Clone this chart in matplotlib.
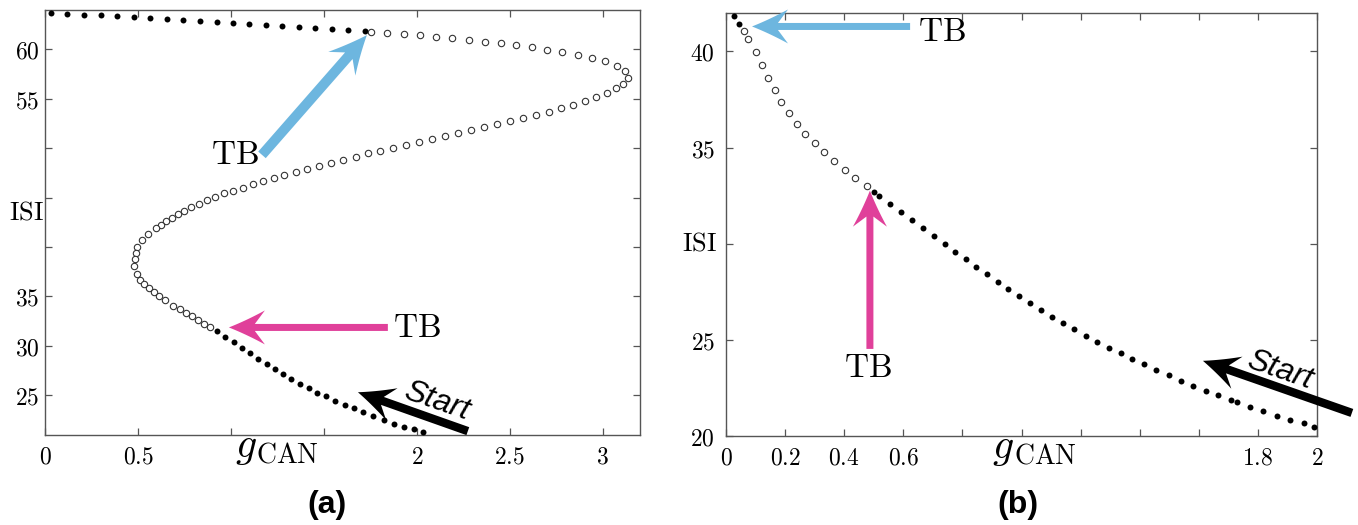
import matplotlib
matplotlib.use("Agg")
import matplotlib.pyplot as plt
from matplotlib.patches import Polygon
import numpy as np

plt.rcParams['mathtext.fontset'] = 'cm'

# ---------------- Data: panel (a) ----------------
a_top_stable_x = [0.030, 0.118, 0.210, 0.300, 0.387, 0.477, 0.565, 0.654, 0.742, 0.833,
                  0.923, 1.011, 1.098, 1.187, 1.276, 1.366, 1.453, 1.543, 1.631, 1.719]
a_top_stable_y = [63.66, 63.56, 63.46, 63.40, 63.33, 63.23, 63.16, 63.05, 62.95, 62.85,
                  62.75, 62.65, 62.55, 62.45, 62.35, 62.25, 62.15, 62.05, 61.95, 61.84]

a_unstable_x = [1.751, 1.840, 1.929, 2.016, 2.102, 2.190, 2.278, 2.364, 2.450, 2.534,
                2.620, 2.701, 2.783, 2.864, 2.941, 3.012, 3.074, 3.120, 3.133,
                3.109, 3.070, 3.020, 2.964, 2.905, 2.840, 2.774, 2.708, 2.640, 2.570,
                2.500, 2.430, 2.360, 2.289, 2.220, 2.149, 2.079, 2.009, 1.939, 1.873,
                1.803, 1.737, 1.670, 1.604, 1.538, 1.473, 1.410, 1.348, 1.287, 1.230,
                1.172, 1.117, 1.063, 1.012, 0.962, 0.916, 0.869, 0.826, 0.785, 0.746,
                0.713, 0.681, 0.651, 0.622, 0.595, 0.554, 0.522, 0.496, 0.491, 0.482,
                0.480, 0.493, 0.512, 0.534, 0.559, 0.586, 0.611, 0.644, 0.690, 0.724,
                0.756, 0.790, 0.824, 0.855, 0.887]
a_unstable_y = [61.74, 61.64, 61.51, 61.41, 61.24, 61.11, 60.91, 60.74, 60.57, 60.40,
                60.17, 59.93, 59.70, 59.43, 59.12, 58.76, 58.29, 57.78, 57.05,
                56.50, 56.04, 55.59, 55.16, 54.79, 54.39, 54.02, 53.68, 53.38, 53.04,
                52.74, 52.44, 52.14, 51.83, 51.53, 51.23, 50.93, 50.63, 50.32, 50.05,
                49.75, 49.45, 49.14, 48.81, 48.51, 48.21, 47.90, 47.57, 47.27, 46.93,
                46.62, 46.36, 45.99, 45.69, 45.45, 45.05, 44.75, 44.37, 44.04, 43.67,
                43.34, 42.96, 42.63, 42.23, 41.89, 41.32, 40.68, 40.04, 39.41, 38.80,
                38.05, 37.29, 36.71, 36.21, 35.81, 35.43, 35.03, 34.67, 34.06, 33.69,
                33.32, 32.98, 32.65, 32.25, 31.87]

a_low_stable_x = [0.925, 0.969, 1.015, 1.059, 1.102, 1.147, 1.192, 1.235, 1.280, 1.324,
                  1.371, 1.418, 1.464, 1.512, 1.561, 1.611, 1.661, 1.711, 1.765, 1.821,
                  1.876, 1.932, 1.985, 2.031]
a_low_stable_y = [31.54, 30.94, 30.39, 29.83, 29.25, 28.72, 28.17, 27.71, 27.14, 26.63,
                  26.16, 25.73, 25.29, 24.92, 24.44, 24.04, 23.68, 23.28, 22.87, 22.50,
                  22.13, 21.79, 21.56, 21.32]

a_xticks = [0, 0.5, 1.0, 1.5, 2.0, 2.5, 3.0]
a_xticklabels = ['0', '0.5', '', '', '2', '2.5', '3']
a_yticks = [25, 30, 35, 40, 45, 50, 55, 60]
a_yticklabels = ['25', '30', '35', '', '', '', '55', '60']

# ---------------- Data: panel (b) ----------------
b_top_stable_x = [0.026, 0.045]
b_top_stable_y = [41.84, 41.44]
b_unstable_x = [0.060, 0.075, 0.101, 0.122, 0.142, 0.165, 0.187, 0.212, 0.239, 0.268,
                0.300, 0.332, 0.366, 0.402, 0.438, 0.476]
b_unstable_y = [41.06, 40.66, 39.96, 39.29, 38.61, 37.98, 37.36, 36.79, 36.25, 35.73,
                35.24, 34.76, 34.29, 33.85, 33.44, 33.01]
b_low_stable_x = [0.501, 0.519, 0.556, 0.593, 0.630, 0.667, 0.704, 0.740, 0.776, 0.812,
                  0.847, 0.883, 0.920, 0.956, 0.992, 1.030, 1.067, 1.104, 1.140, 1.179,
                  1.217, 1.256, 1.295, 1.336, 1.375, 1.416, 1.456, 1.498, 1.540, 1.581,
                  1.624, 1.666, 1.709, 1.730, 1.774, 1.818, 1.865, 1.910, 1.956, 1.990]
b_low_stable_y = [32.67, 32.46, 32.07, 31.65, 31.21, 30.80, 30.40, 29.99, 29.58, 29.18,
                  28.80, 28.42, 28.02, 27.67, 27.29, 26.93, 26.56, 26.21, 25.87, 25.56,
                  25.22, 24.91, 24.58, 24.31, 24.01, 23.73, 23.44, 23.16, 22.88, 22.62,
                  22.36, 22.12, 21.88, 21.76, 21.53, 21.29, 21.06, 20.85, 20.66, 20.47]

b_xticks = [0, 0.2, 0.4, 0.6, 0.8, 1.0, 1.2, 1.4, 1.6, 1.8, 2.0]
b_xticklabels = ['0', '0.2', '0.4', '0.6', '', '', '', '', '', '1.8', '2']
b_yticks = [20, 25, 30, 35, 40]
b_yticklabels = ['20', '25', '', '35', '40']

BLUE = '#6DB6DF'
PINK = '#E0409A'
SPINE = '#555555'

fig = plt.figure(figsize=(13.58, 5.25), dpi=100)
axA = fig.add_axes([45/1358, 90/525, 595/1358, 425/525])
axB = fig.add_axes([726/1358, 89/525, 591/1358, 423/525])


def style_axes(ax, xticks, xlabels, yticks, ylabels, ypad):
    ax.set_xticks(xticks)
    ax.set_xticklabels([('$%s$' % s) if s else '' for s in xlabels])
    ax.set_yticks(yticks)
    ax.set_yticklabels([('$%s$' % s) if s else '' for s in ylabels])
    ax.tick_params(direction='in', length=5, width=0.9, color=SPINE,
                   top=True, right=True, labelsize=17)
    ax.tick_params(axis='x', pad=7)
    ax.tick_params(axis='y', pad=ypad)
    for s in ax.spines.values():
        s.set_color(SPINE)
        s.set_linewidth(1.0)


def stable(ax, x, y):
    ax.plot(x, y, 'o', ms=4.3, mfc='black', mec='black', mew=0, ls='none', clip_on=False, zorder=3)


def unstable(ax, x, y):
    ax.plot(x, y, 'o', ms=4.6, mfc='white', mec='#333333', mew=0.8, ls='none', clip_on=False, zorder=3)


def arrow(ax, tail, tip, color, half_shaft, head_len, head_half):
    """Stealth-style arrow; geometry in pixels, endpoints in data coordinates."""
    p0 = ax.transData.transform(tail)
    p1 = ax.transData.transform(tip)
    d = p1 - p0
    u = d / np.hypot(*d)
    n = np.array([-u[1], u[0]])
    notch = p1 - 0.72 * head_len * u
    back = p1 - head_len * u
    pts = [p0 + half_shaft * n, notch + half_shaft * n]
    # concave edge from barb to tip
    barb_l = back + head_half * n
    barb_r = back - head_half * n
    ctrl_l = 0.5 * (barb_l + p1) - 0.08 * head_half * n
    ctrl_r = 0.5 * (barb_r + p1) + 0.08 * head_half * n
    ts = np.linspace(0, 1, 12)
    pts.append(barb_l)
    for t in ts[1:]:
        pts.append((1 - t) ** 2 * barb_l + 2 * (1 - t) * t * ctrl_l + t ** 2 * p1)
    for t in ts[1:]:
        pts.append((1 - t) ** 2 * p1 + 2 * (1 - t) * t * ctrl_r + t ** 2 * barb_r)
    pts += [notch - half_shaft * n, p0 - half_shaft * n]
    pts = fig.transFigure.inverted().transform(np.array(pts))
    fig.patches.append(Polygon(pts, closed=True, transform=fig.transFigure,
                               facecolor=color, edgecolor='none', zorder=5, figure=fig))


# ---------------- Panel (a) ----------------
stable(axA, a_top_stable_x, a_top_stable_y)
unstable(axA, a_unstable_x, a_unstable_y)
stable(axA, a_low_stable_x, a_low_stable_y)
axA.set_xlim(0, 3.2)
axA.set_ylim(21, 63.95)
style_axes(axA, a_xticks, a_xticklabels, a_yticks, a_yticklabels, 4)

# ---------------- Panel (b) ----------------
stable(axB, b_top_stable_x, b_top_stable_y)
unstable(axB, b_unstable_x, b_unstable_y)
stable(axB, b_low_stable_x, b_low_stable_y)
axB.set_xlim(0, 2)
axB.set_ylim(20, 42)
style_axes(axB, b_xticks, b_xticklabels, b_yticks, b_yticklabels, 8)

# arrows and annotations, panel (a)
arrow(axA, (1.167, 49.31), (1.731, 61.41), BLUE, 5, 38, 18)
axA.text(1.021, 49.31, r'$\mathrm{TB}$', fontsize=24, ha='center', va='center')
arrow(axA, (1.844, 31.87), (0.989, 31.87), PINK, 3.5, 36, 17)
axA.text(1.871, 31.87, r'$\mathrm{TB}$', fontsize=24, ha='left', va='center')
arrow(axA, (2.274, 21.39), (1.683, 25.32), 'black', 4.2, 36, 17)
axA.text(2.108, 24.40, 'Start', fontsize=23, style='italic', family='Liberation Sans',
         rotation=-19, rotation_mode='anchor', ha='center', va='center')
axA.text(-0.102, 43.47, r'$\mathrm{ISI}$', fontsize=19, ha='center', va='center', clip_on=False)

# arrows and annotations, panel (b)
arrow(axB, (0.623, 41.30), (0.088, 41.30), BLUE, 3.5, 36, 17)
axB.text(0.650, 41.04, r'$\mathrm{TB}$', fontsize=24, ha='left', va='center')
arrow(axB, (0.487, 24.53), (0.487, 32.76), PINK, 3.5, 36, 17)
axB.text(0.481, 23.54, r'$\mathrm{TB}$', fontsize=24, ha='center', va='center')
arrow(axB, (2.118, 21.20), (1.614, 23.91), 'black', 4.2, 36, 17)
axB.text(1.875, 23.39, 'Start', fontsize=23, style='italic', family='Liberation Sans',
         rotation=-19, rotation_mode='anchor', ha='center', va='center')
axB.text(-0.088, 30.0, r'$\mathrm{ISI}$', fontsize=19, ha='center', va='center', clip_on=False)

# g_CAN labels
for ax, xg, xc in [(axA, 1.022, 1.134), (axB, 0.900, 0.975)]:
    ax.annotate(r'$g$', xy=(xg, 0), xycoords=('data', 'axes fraction'),
                xytext=(0, -16), textcoords='offset points', fontsize=30,
                ha='left', va='baseline', annotation_clip=False)
    ax.annotate(r'$\mathrm{CAN}$', xy=(xc, 0), xycoords=('data', 'axes fraction'),
                xytext=(0, -20), textcoords='offset points', fontsize=20,
                ha='left', va='baseline', annotation_clip=False)

fig.text(327/1358, 1 - 505/525, '(a)', fontsize=23, fontweight='bold',
         family='Liberation Sans', ha='center', va='center')
fig.text(1018/1358, 1 - 505/525, '(b)', fontsize=23, fontweight='bold',
         family='Liberation Sans', ha='center', va='center')

fig.savefig('out.png', dpi=100)
